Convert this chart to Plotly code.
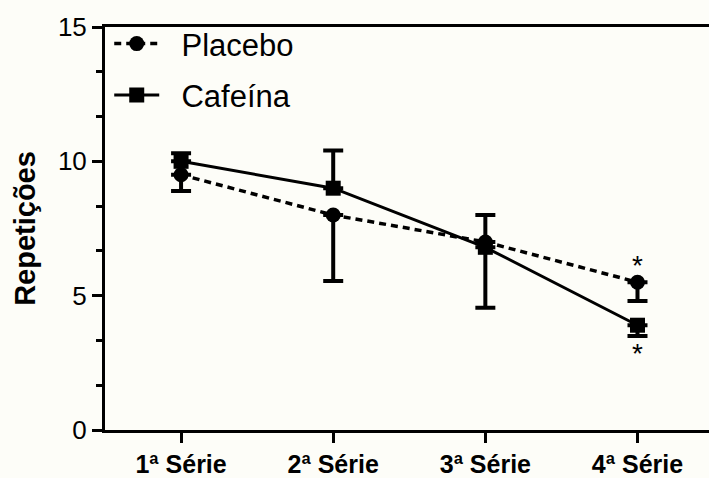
import plotly.graph_objects as go

categories = ["1ª Série", "2ª Série", "3ª Série", "4ª Série"]
series_names = ["Placebo", "Cafeína"]
placebo = [9.5, 8.0, 7.0, 5.5]
placebo_err_plus = [0.0, 0.0, 1.0, 0.0]
placebo_err_minus = [0.6, 2.45, 0.0, 0.7]
cafeina = [10.0, 9.0, 6.8, 3.9]
cafeina_err_plus = [0.3, 1.4, 0.0, 0.0]
cafeina_err_minus = [0.0, 0.0, 2.25, 0.4]
y_ticks = [0, 5, 10, 15]

FONT = "Liberation Sans, Arial, sans-serif"
BG = "#fdfdf8"
PAD = "\u00a0\u00a0"

fig = go.Figure()
fig.add_trace(go.Scatter(
    x=categories, y=placebo, name=PAD + series_names[0], mode="lines+markers",
    legendgroup="p",
    line=dict(color="black", width=3.5, dash="7px,5px"),
    marker=dict(symbol="circle", size=15, color="black"),
    error_y=dict(type="data", symmetric=False, array=placebo_err_plus,
                 arrayminus=placebo_err_minus, color="black", thickness=4, width=10),
))
fig.add_trace(go.Scatter(
    x=categories, y=cafeina, name=PAD + series_names[1], mode="lines+markers",
    legendgroup="c",
    line=dict(color="black", width=3),
    marker=dict(symbol="square", size=15, color="black"),
    error_y=dict(type="data", symmetric=False, array=cafeina_err_plus,
                 arrayminus=cafeina_err_minus, color="black", thickness=4, width=10),
))

# significance asterisks
fig.add_annotation(x=categories[3], y=placebo[3], text="*", showarrow=False,
                   yshift=17, font=dict(family=FONT, size=28, color="black"))
fig.add_annotation(x=categories[3], y=cafeina[3], text="*", showarrow=False,
                   yshift=-28, font=dict(family=FONT, size=28, color="black"))

fig.update_layout(
    width=709, height=478,
    margin=dict(l=105, r=0, t=27, b=46),
    paper_bgcolor=BG, plot_bgcolor=BG,
    font=dict(family=FONT, color="black"),
    showlegend=True,
    legend=dict(x=0.007, y=1.025, xanchor="left", yanchor="top",
                bgcolor="rgba(0,0,0,0)", traceorder="grouped",
                tracegroupgap=8, itemwidth=45,
                font=dict(family=FONT, size=31, color="black")),
    xaxis=dict(
        type="category", range=[-0.5, 3.47],
        showline=True, linecolor="black", linewidth=3, mirror=True,
        ticks="outside", ticklen=10, tickwidth=3, tickcolor="black",
        showgrid=False, zeroline=False,
        tickfont=dict(family=FONT, size=25, color="black", weight="bold"),
    ),
    yaxis=dict(
        range=[0, 15], tickvals=y_ticks,
        showline=True, linecolor="black", linewidth=3,
        ticks="outside", ticklen=10, tickwidth=3, tickcolor="black",
        minor=dict(dtick=5/3, tick0=0, ticks="outside", ticklen=6,
                   tickwidth=3, tickcolor="black", showgrid=False),
        showgrid=False, zeroline=False,
        tickfont=dict(family=FONT, size=26, color="black"),
        title=dict(text="Repetições", standoff=14,
                   font=dict(family=FONT, size=29, color="black", weight="bold")),
    ),
)

fig.write_html(
    "out.html",
    config={"displayModeBar": False},
    post_script="document.body.style.margin='0';document.body.style.background='" + BG + "';",
)
